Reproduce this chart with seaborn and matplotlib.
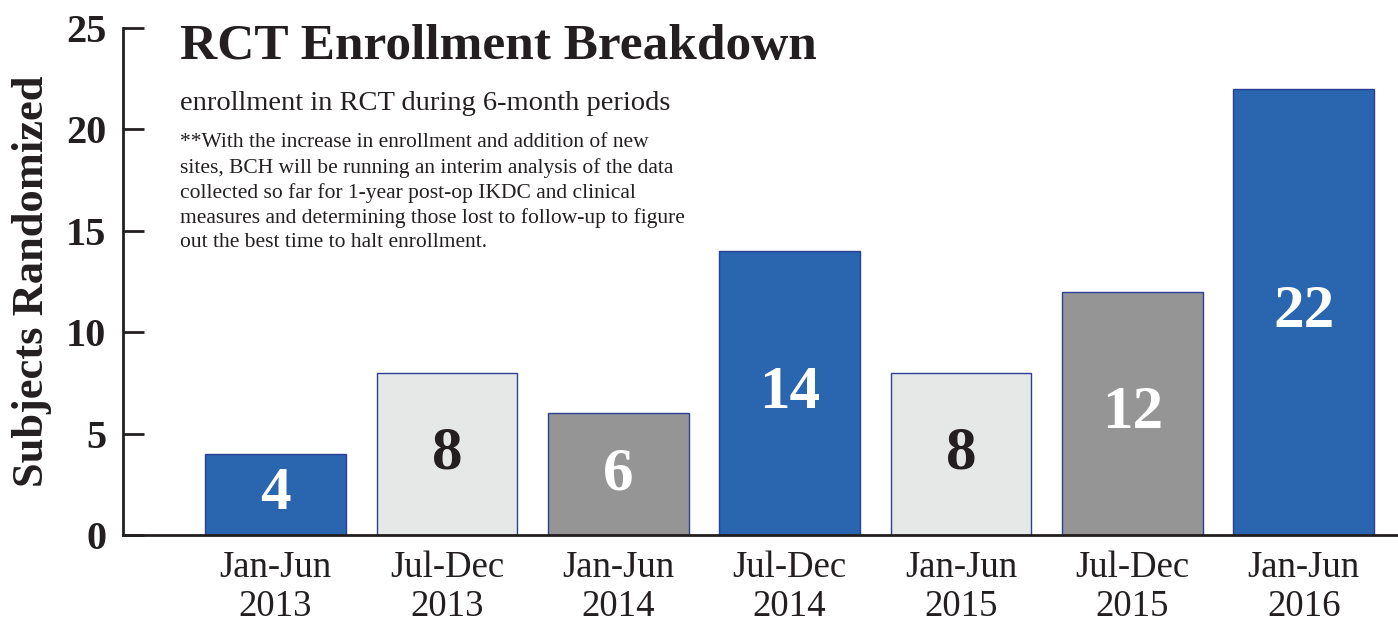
import pandas as pd
import matplotlib
matplotlib.use("Agg")
import matplotlib.pyplot as plt
import seaborn as sns

# data
periods = ["Jan-Jun\n2013", "Jul-Dec\n2013", "Jan-Jun\n2014", "Jul-Dec\n2014",
           "Jan-Jun\n2015", "Jul-Dec\n2015", "Jan-Jun\n2016"]
subjects = [4, 8, 6, 14, 8, 12, 22]
bar_colors = ["#2A65AF", "#E6E7E7", "#959596", "#2A65AF", "#E6E7E7", "#959596", "#2A65AF"]
label_colors = ["white", "#231F20", "white", "white", "#231F20", "white", "white"]

df = pd.DataFrame({"Period": periods, "Subjects": subjects})

sns.set_style("white")
plt.rcParams["font.family"] = ["Liberation Serif", "DejaVu Serif"]

fig = plt.figure(figsize=(13.98, 6.26), dpi=100)
ax = fig.add_axes([0.088, 0.1454, 0.912, 0.81])

sns.barplot(data=df, x="Period", y="Subjects", hue="Period", palette=bar_colors,
            legend=False, width=0.82, saturation=1, edgecolor="#2B3F94",
            linewidth=1, ax=ax)

# value labels inside bars
for i, v in enumerate(subjects):
    ax.text(i, v / 2, str(v), ha="center", va="center", fontsize=44,
            fontweight="bold", color=label_colors[i])

ax.set_xlim(-0.89, 6.55)
ax.set_ylim(0, 25)
ax.set_yticks([0, 5, 10, 15, 20, 25])
ax.set_xlabel("")
ax.set_ylabel("Subjects Randomized", fontsize=32, fontweight="bold", color="#231F20", labelpad=10)

for lbl in ax.get_yticklabels():
    lbl.set_fontweight("bold")
for lbl in ax.get_xticklabels():
    lbl.set_linespacing(1.18)
ax.tick_params(axis="y", left=True, direction="in", length=15, width=2, labelsize=29,
               labelcolor="#231F20", color="#231F20", pad=12)
ax.tick_params(axis="x", length=0, labelsize=26.5, labelcolor="#231F20", pad=11)

sns.despine(ax=ax, top=True, right=True)
ax.spines["left"].set_linewidth(2)
ax.spines["bottom"].set_linewidth(2)
ax.spines["left"].set_color("#231F20")
ax.spines["bottom"].set_color("#231F20")

# title and notes
fig.text(0.129, 0.925, "RCT Enrollment Breakdown", fontsize=37, fontweight="bold",
         color="#231F20", va="center")
fig.text(0.129, 0.834, "enrollment in RCT during 6-month periods", fontsize=20.5,
         color="#231F20", va="center")
note = ("**With the increase in enrollment and addition of new\n"
        "sites, BCH will be running an interim analysis of the data\n"
        "collected so far for 1-year post-op IKDC and clinical\n"
        "measures and determining those lost to follow-up to figure\n"
        "out the best time to halt enrollment.")
fig.text(0.129, 0.787, note, fontsize=15.5, color="#231F20", va="top", linespacing=1.36)

plt.savefig("out.png", dpi=100)
